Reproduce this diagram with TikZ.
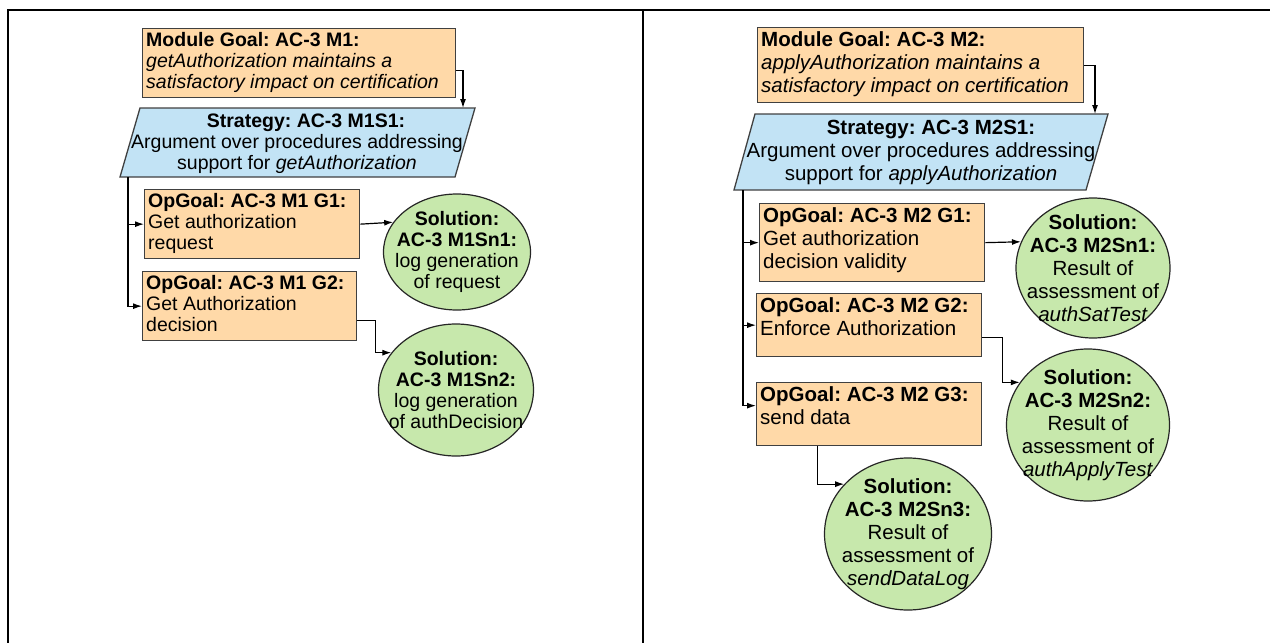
\documentclass[tikz,border=0pt]{standalone}
\usepackage{fontspec}
\setmainfont{Liberation Sans}
\usepackage{xcolor}
\usetikzlibrary{arrows.meta,shapes.geometric}

\definecolor{goalfill}{RGB}{255,217,168}
\definecolor{stratfill}{RGB}{194,227,245}
\definecolor{solfill}{RGB}{199,232,172}
\definecolor{edgegray}{RGB}{64,64,64}

\tikzset{
  goalbox/.style={draw=edgegray, fill=goalfill, line width=1.3pt, anchor=north west, inner sep=0pt},
  goaltext/.style={anchor=north west, align=left, inner sep=4pt},
  stratbox/.style={draw=edgegray, fill=stratfill, line width=1.3pt},
  strattext/.style={align=center, inner sep=0pt},
  solnode/.style={ellipse, draw=black!85, fill=solfill, line width=1.2pt, inner sep=0pt},
  soltext/.style={align=center, inner sep=0pt},
  conn/.style={line width=1.2pt, -{Latex[length=9pt,width=6pt]}},
  frameline/.style={line width=2pt}
}

\begin{document}
\frenchspacing
\begin{tikzpicture}[x=1pt,y=-1pt]
    \useasboundingbox (0,0) rectangle (1270,643);
    % table frame
    \draw[frameline] (7,9.5) -- (1270,9.5);
    \draw[frameline] (8,9.5) -- (8,643);
    \draw[frameline] (643,9.5) -- (643,643);

    % module M1
    \begin{scope}[font=\fontsize{19.5}{21}\selectfont]
        \node[goalbox, minimum width=313pt, minimum height=69pt] (mg1) at (142,28) {};
        \node[goaltext] (mg1t) at (mg1.north west) {\textbf{Module Goal: AC-3 M1:}\\\textit{getAuthorization maintains a}\\\textit{satisfactory impact on certification}};
        \filldraw[stratbox] (140,108) -- (475,108) -- (455,177) -- (120,177) -- cycle;
        \node[strattext] (st1) at (297,144) {\hspace*{18pt}\textbf{Strategy: AC-3 M1S1:}\\Argument over procedures addressing\\support for \textit{getAuthorization}};
        \coordinate (st1in) at (463,108);
        \coordinate (st1out) at (128,177);
        \node[goalbox, minimum width=215pt, minimum height=69pt] (og11) at (144,189) {};
        \node[goaltext] (og11t) at (og11.north west) {\textbf{OpGoal: AC-3 M1 G1:}\\Get authorization\\request};
        \node[goalbox, minimum width=214pt, minimum height=69pt] (og12) at (142,271) {};
        \node[goaltext] (og12t) at (og12.north west) {\textbf{OpGoal: AC-3 M1 G2:}\\Get Authorization\\decision};
        \node[solnode, minimum width=147pt, minimum height=116pt] (sn11) at (457,252) {};
        \node[soltext] (sn11t) at (sn11.center) {\textbf{Solution:}\\\textbf{AC-3 M1Sn1:}\\log generation\\of request};
        \node[solnode, minimum width=155pt, minimum height=132pt] (sn12) at (456,390) {};
        \node[soltext] (sn12t) at (sn12.center) {\textbf{Solution:}\\\textbf{AC-3 M1Sn2:}\\log generation\\of authDecision};

        \draw[conn] ([yshift=-7.5pt]mg1.east) -| (st1in);
        \draw[conn] (st1out) |- (og11.west);
        \draw[conn] (st1out) |- (og12.west);
        \draw[conn] (og11.east) -- (sn11.155);
        \draw[conn] ([yshift=-14.5pt]og12.east) -- ++(18,0) |- (sn12.150);
    \end{scope}

    % module M2
    \begin{scope}[font=\fontsize{20.5}{23}\selectfont]
        \node[goalbox, minimum width=326pt, minimum height=75pt] (mg2) at (757,27) {};
        \node[goaltext] (mg2t) at (mg2.north west) {\textbf{Module Goal: AC-3 M2:}\\\textit{applyAuthorization maintains a}\\\textit{satisfactory impact on certification}};
        \filldraw[stratbox] (755,114) -- (1108,114) -- (1086,190) -- (734,190) -- cycle;
        \node[strattext] (st2) at (921,152) {\hspace*{20pt}\textbf{Strategy: AC-3 M2S1:}\\Argument over procedures addressing\\support for \textit{applyAuthorization}};
        \coordinate (st2in) at (1095,114);
        \coordinate (st2out) at (743,190);
        \node[goalbox, minimum width=225pt, minimum height=78pt] (og21) at (759,203) {};
        \node[goaltext] (og21t) at (og21.north west) {\textbf{OpGoal: AC-3 M2 G1:}\\Get authorization\\decision validity};
        \node[goalbox, minimum width=225pt, minimum height=63pt] (og22) at (756,293) {};
        \node[goaltext] (og22t) at (og22.north west) {\textbf{OpGoal: AC-3 M2 G2:}\\Enforce Authorization};
        \node[goalbox, minimum width=225pt, minimum height=63pt] (og23) at (756,382) {};
        \node[goaltext] (og23t) at (og23.north west) {\textbf{OpGoal: AC-3 M2 G3:}\\send data};
        \node[solnode, minimum width=154pt, minimum height=140pt] (sn21) at (1093,268) {};
        \node[soltext] (sn21t) at (sn21.center) {\textbf{Solution:}\\\textbf{AC-3 M2Sn1:}\\Result of\\assessment of\\\textit{authSatTest}};
        \node[solnode, minimum width=163pt, minimum height=152pt] (sn22) at (1088,425) {};
        \node[soltext] (sn22t) at (sn22.center) {\textbf{Solution:}\\\textbf{AC-3 M2Sn2:}\\Result of\\assessment of\\\textit{authApplyTest}};
        \node[solnode, minimum width=167pt, minimum height=152pt] (sn23) at (908,534) {};
        \node[soltext] (sn23t) at (sn23.center) {\textbf{Solution:}\\\textbf{AC-3 M2Sn3:}\\Result of\\assessment of\\\textit{sendDataLog}};

        \draw[conn] (mg2.east) -| (st2in);
        \draw[conn] (st2out) |- (og21.west);
        \draw[conn] (st2out) |- (og22.west);
        \draw[conn] (st2out) |- ([yshift=8.5pt]og23.west);
        \draw[conn] (og21.east) -- (sn21.160);
        \draw[conn] ([yshift=-12.5pt]og22.east) -- ++(20,0) |- (sn22.148);
        \draw[conn] ([xshift=-51.5pt]og23.south) |- (sn23.142);
    \end{scope}
\end{tikzpicture}
\end{document}
